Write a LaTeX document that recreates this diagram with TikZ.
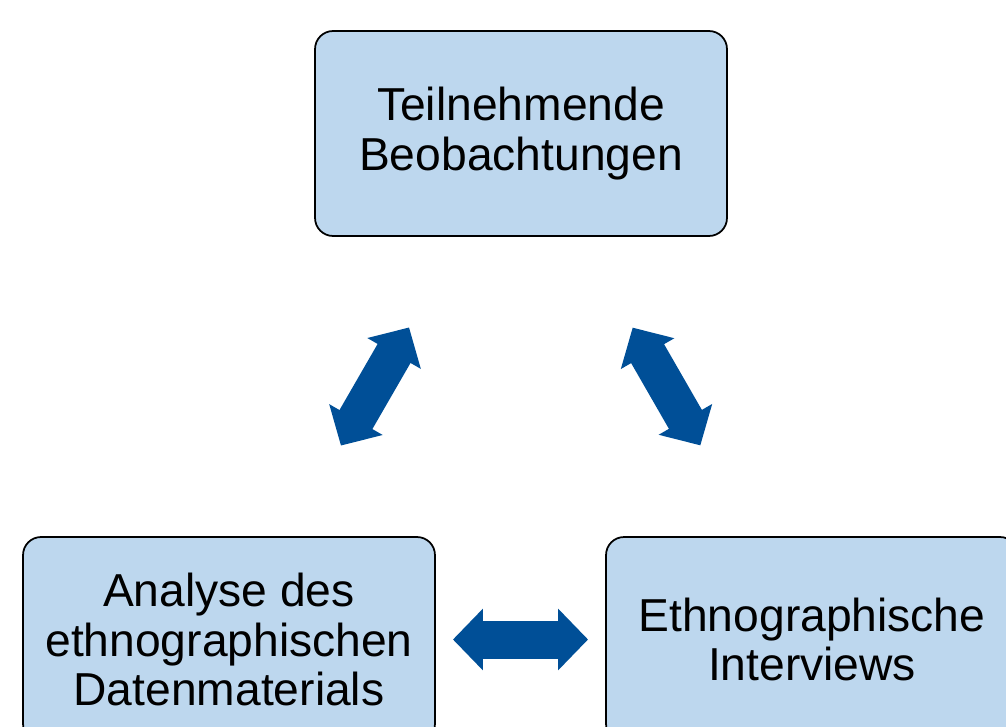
\documentclass[tikz,border=0pt]{standalone}
\usepackage{fontspec}
\setmainfont{Liberation Sans}
\usetikzlibrary{arrows.meta}
\definecolor{boxblue}{RGB}{189,215,238}
\definecolor{arrowblue}{RGB}{0,79,151}

\begin{document}
\begin{tikzpicture}[x=0.02cm,y=-0.02cm, >=Stealth,
  feldbox/.style={draw=black, line width=1pt, fill=boxblue, rounded corners=0.36cm,
    minimum width=8.24cm, minimum height=4.1cm, inner sep=0pt, align=center,
    font=\fontsize{26.3}{28.3}\selectfont},
  blockpfeil/.style={draw=arrowblue, line width=0.76cm,
    {Triangle[length=0.6cm 0,width=1.2cm 0]}-{Triangle[length=0.6cm 0,width=1.2cm 0]},
    shorten >=4.48cm, shorten <=4.48cm}]

  %--- Rahmen
  \clip (0,0) rectangle (1006,726);
  \useasboundingbox (0,0) rectangle (1006,726);

  %--- Kaesten
  \node[feldbox] (beob) at (521,133.5) {Teilnehmende\\Beobachtungen};
  \node[feldbox] (analyse) at (229,639.5) {Analyse des\\ethnographischen\\Datenmaterials};
  \node[feldbox] (interv) at (812,639.5) {Ethnographische\\Interviews};

  %--- Pfeile
  \draw[blockpfeil] (beob.center) -- (analyse.center);
  \draw[blockpfeil] (beob.center) -- (interv.center);
  \draw[blockpfeil] (analyse.center) -- (interv.center);
\end{tikzpicture}
\end{document}
